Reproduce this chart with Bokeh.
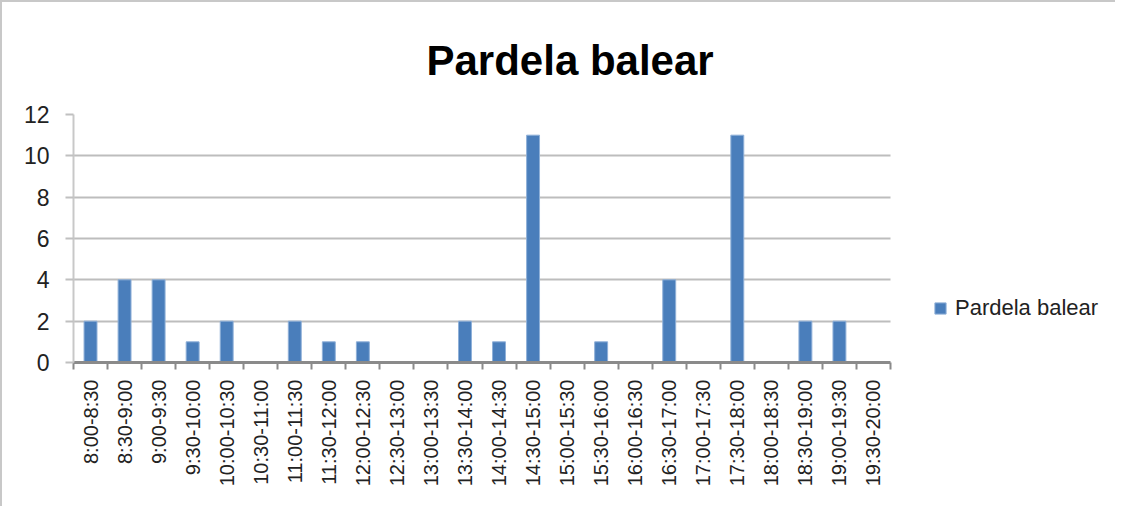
from bokeh.plotting import figure
from bokeh.models import Range1d, FixedTicker, Legend, LegendItem
from bokeh.embed import file_html
from bokeh.resources import INLINE
import math

title = "Pardela balear"
series_name = "Pardela balear"
categories = ["8:00-8:30", "8:30-9:00", "9:00-9:30", "9:30-10:00", "10:00-10:30",
              "10:30-11:00", "11:00-11:30", "11:30-12:00", "12:00-12:30", "12:30-13:00",
              "13:00-13:30", "13:30-14:00", "14:00-14:30", "14:30-15:00", "15:00-15:30",
              "15:30-16:00", "16:00-16:30", "16:30-17:00", "17:00-17:30", "17:30-18:00",
              "18:00-18:30", "18:30-19:00", "19:00-19:30", "19:30-20:00"]
values = [2, 4, 4, 1, 2, 0, 2, 1, 1, 0, 0, 2, 1, 11, 0, 1, 0, 4, 0, 11, 0, 2, 2, 0]
y_ticks = [0, 2, 4, 6, 8, 10, 12]

n = len(categories)
xs = list(range(n))

# layout: the frame extends to the right so the legend can live inside it;
# the axis and grid are bounded to the category span
FIG_W, FIG_H = 1115, 506
LEFT, RIGHT, TOP, BOTTOM = 71, 4, 112, 146
frame_w = FIG_W - LEFT - RIGHT
axis_w = 817
x_end = -0.5 + n * frame_w / axis_w

p = figure(width=FIG_W, height=FIG_H, output_backend="svg", toolbar_location=None,
           x_range=Range1d(-0.5, x_end), y_range=Range1d(0, 12),
           min_border_left=LEFT, min_border_right=RIGHT, min_border_top=TOP, min_border_bottom=BOTTOM)
p.outline_line_color = None
p.background_fill_color = "white"
p.border_fill_color = "white"

p.title.text = title
p.title.text_font = "Liberation Sans"
p.title.text_font_style = "bold"
p.title.text_font_size = "42px"
p.title.text_color = "#000000"
p.title.align = "left"
p.title.offset = 353
p.title.standoff = 61

r = p.vbar(x=xs, top=values, width=0.38, fill_color="#4a7ebb", line_color="#8fb0d8", line_width=1)

# x axis
xa = p.xaxis[0]
xa.bounds = (-0.5, n - 0.5)
xa.ticker = FixedTicker(ticks=xs, minor_ticks=[i - 0.5 for i in range(n + 1)])
xa.major_label_overrides = {i: c for i, c in enumerate(categories)}
xa.major_label_orientation = math.pi / 2
xa.major_label_text_font = "Liberation Sans"
xa.major_label_text_font_size = "20px"
xa.major_label_text_color = "#222222"
xa.major_tick_out = 0
xa.major_tick_in = 0
xa.minor_tick_out = 7
xa.minor_tick_in = 0
xa.minor_tick_line_color = "#8a8a8a"
xa.minor_tick_line_width = 2
xa.axis_line_color = "#8a8a8a"
xa.axis_line_width = 3
xa.major_label_standoff = 10

# y axis
ya = p.yaxis[0]
ya.ticker = FixedTicker(ticks=y_ticks)
ya.major_label_text_font = "Liberation Sans"
ya.major_label_text_font_size = "23px"
ya.major_label_text_color = "#222222"
ya.major_tick_out = 8
ya.major_tick_in = 0
ya.minor_tick_out = 0
ya.minor_tick_in = 0
ya.major_tick_line_color = "#c0c0c0"
ya.major_tick_line_width = 2
ya.axis_line_color = "#c8c8c8"
ya.axis_line_width = 2
ya.major_label_standoff = 16

p.xgrid.grid_line_color = None
p.ygrid.ticker = FixedTicker(ticks=y_ticks)
p.ygrid.cross_bounds = (-0.5, n - 0.5)
p.ygrid.grid_line_color = "#bdbdbd"
p.ygrid.grid_line_width = 2

legend = Legend(items=[LegendItem(label=series_name, renderers=[r])],
                location=(860, 41), border_line_color=None, background_fill_alpha=0,
                label_text_font="Liberation Sans", label_text_font_size="22px",
                label_text_color="#222222", glyph_width=14, glyph_height=14,
                padding=0, margin=0, label_standoff=8)
p.add_layout(legend, "center")

p.styles = {"border-left": "2px solid #c8c8c8", "border-top": "2px solid #c8c8c8"}

open("out.html", "w").write(file_html(p, INLINE))
